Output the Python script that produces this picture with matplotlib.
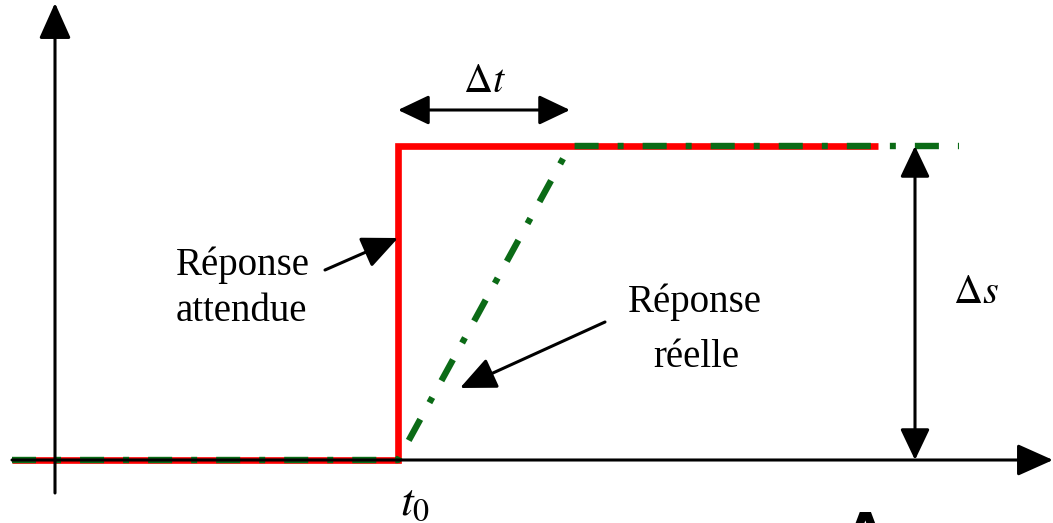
import matplotlib.pyplot as plt

plt.rcParams['mathtext.fontset'] = 'stix'
plt.rcParams['lines.scale_dashes'] = False

# signaux (abscisse: temps, ordonnee: sortie) ; origine au croisement des axes
t_attendue = [-43, 343, 343, 823]
s_attendue = [0, 0, 314, 314]
t_reelle = [-43, 343, 515, 904]
s_reelle = [0, 0, 314, 314]

t0 = 343
t_fin_rampe = 515
delta_s = 314
x_delta_s = 860

fig = plt.figure(figsize=(10.53, 5.23), dpi=100)
ax = fig.add_axes([0, 0, 1, 1])
ax.set_xlim(-55, 998)
ax.set_ylim(-63, 460)
ax.axis('off')

noir = dict(arrowstyle='-|>,head_length=0.85,head_width=0.38', color='black',
            lw=2.2, mutation_scale=26, shrinkA=0, shrinkB=0)
double = dict(arrowstyle='<|-|>,head_length=0.8,head_width=0.38', color='black',
              lw=2.2, mutation_scale=24, shrinkA=0, shrinkB=0)

# axes
ax.annotate('', xy=(998, 0), xytext=(-43, 0), arrowprops=noir)
ax.annotate('', xy=(0, 457), xytext=(0, -33), arrowprops=noir)

# reponses
ax.plot(t_attendue, s_attendue, color='#ff0000', lw=4.8, solid_capstyle='butt',
        solid_joinstyle='miter')
ax.plot(t_reelle, s_reelle, color='#0b6b16', lw=4.6,
        dashes=(17.3, 13.7, 4.3, 13.7), dash_capstyle='butt')

# delta t et delta s
ax.annotate('', xy=(t0, 350), xytext=(t_fin_rampe, 350), arrowprops=double)
ax.annotate('', xy=(x_delta_s, 0), xytext=(x_delta_s, delta_s), arrowprops=double)

serif = dict(family='Liberation Serif', fontsize=28, ha='center', va='baseline')
math = dict(fontsize=29, ha='center', va='baseline')
ax.text((t0 + t_fin_rampe) / 2, 368, r'$\Delta t$', **math)
ax.text(921, 157, r'$\Delta s$', **math)
ax.text(360, -55, r'$t_0$', fontsize=33, ha='center', va='baseline')

ax.text(188, 185, 'Réponse', **serif)
ax.text(186, 139, 'attendue', **serif)
ax.text(640, 148, 'Réponse', **serif)
ax.text(641, 93, 'réelle', **serif)

ax.annotate('', xy=(t0, 222), xytext=(270, 190), arrowprops=noir)
ax.annotate('', xy=(405, 72), xytext=(550, 138), arrowprops=noir)

ax.text(810, -88, 'A', fontsize=36, fontweight='bold', family='DejaVu Sans',
        ha='center', va='baseline')

fig.savefig('out.png', dpi=100)
